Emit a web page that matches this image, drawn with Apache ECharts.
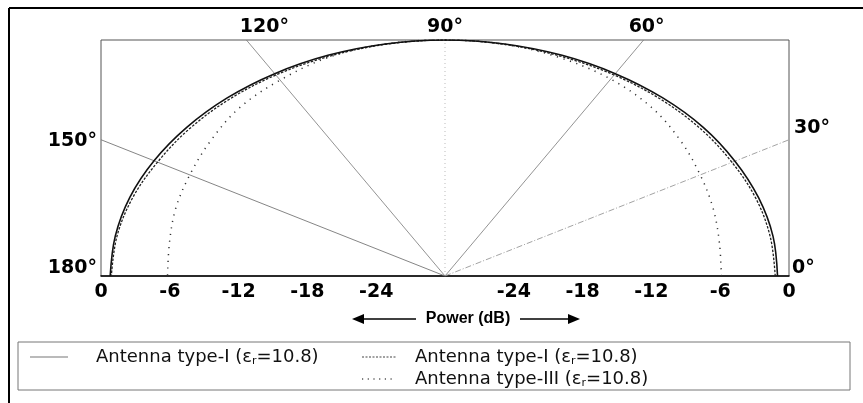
<!DOCTYPE html>
<html><head><meta charset="utf-8">
<script src="https://cdn.jsdelivr.net/npm/echarts@6/dist/echarts.min.js"></script>
<style>html,body{margin:0;padding:0;background:#fff}#c{width:863px;height:403px}</style>
</head><body><div id="c"></div>
<script>
// Angle (deg) samples of the radiation patterns
const angles = [0,10,20,30,40,50,60,70,80,90,100,110,120,130,140,150,160,170,180];
// Normalised power (dB)
const typeI_solid  = [-1.0,-0.95,-0.9,-0.8,-0.6,-0.45,-0.3,-0.15,-0.05,0,-0.05,-0.15,-0.3,-0.45,-0.6,-0.7,-0.75,-0.8,-0.8];
const typeI_dashed = [-1.2,-1.2,-1.15,-1.1,-0.9,-0.7,-0.5,-0.3,-0.1,0,-0.1,-0.3,-0.5,-0.7,-0.9,-1.05,-1.0,-0.95,-0.9];
const typeIII_dot  = [-5.9,-5.7,-5.1,-4.3,-3.2,-2.0,-1.1,-0.5,-0.1,0,-0.05,-0.4,-1.25,-2.1,-3.3,-4.3,-5.0,-5.6,-5.8];
// radial guide lines and angle labels
const radialAngles = [30,60,90,120,150];
const angleLabelValues = [0,30,60,90,120,150,180];
const angleLabelTexts = ['0°','30°','60°','90°','120°','150°','180°'];
// radial range
const dbMin = -30, dbMax = 0;
const legendNames = ['Antenna type-I (ε{s|r}=10.8)','Antenna type-I (ε{s|r}=10.8)','Antenna type-III (ε{s|r}=10.8)'];

const R = dbMax - dbMin;
const rad = a => a*Math.PI/180;
function toXY(a, db){ const r = db - dbMin; return [r*Math.cos(rad(a)), r*Math.sin(rad(a))]; }
function curve(vals){ return angles.map((a,i)=>toXY(a, vals[i])); }
function edge(a){ const c=Math.cos(rad(a)), s=Math.sin(rad(a)); const t = R/Math.max(Math.abs(c), Math.abs(s)); return [t*c, t*s]; }

const radialStyles = {
  30:{color:'#999',width:0.9,type:[6,2,1,2]},
  60:{color:'#777',width:0.8,type:'solid'},
  90:{color:'#aaa',width:0.8,type:[1,3]},
  120:{color:'#777',width:0.8,type:'solid'},
  150:{color:'#777',width:0.9,type:'solid'}
};
const series = [];
radialAngles.forEach(a=>{
  series.push({type:'line',data:[[0,0],edge(a)],symbol:'none',silent:true,lineStyle:radialStyles[a],z:1});
});
series.push({type:'line',name:'s1',data:curve(typeI_solid),smooth:0.35,symbol:'none',lineStyle:{color:'#111',width:1.6},z:5});
series.push({type:'line',name:'s2',data:curve(typeI_dashed),smooth:0.35,symbol:'none',lineStyle:{color:'#222',width:1.3,type:[2.5,1.5]},z:4});
series.push({type:'line',name:'s3',data:curve(typeIII_dot),smooth:0.35,symbol:'none',lineStyle:{color:'#333',width:1.5,type:[1.2,5.5]},z:3});

const lblPos = {0:['right',[0,-8]],30:['right',[2,-12]],60:['top',[3,0]],90:['top',[0,0]],120:['top',[18,0]],150:['left',[-1,1]],180:['left',[-1,-8]]};
series.push({type:'scatter',symbolSize:0,silent:true,z:6,itemStyle:{opacity:1},
  data:angleLabelValues.map((a,i)=>({value:edge(a),label:{show:true,formatter:angleLabelTexts[i],position:lblPos[a][0],offset:lblPos[a][1],distance:3}})),
  label:{fontFamily:'DejaVu Sans',fontWeight:'bold',fontSize:19,color:'#000',opacity:1}
});

const lt = {fontFamily:'DejaVu Sans',fontSize:18,fill:'#111'};
const rich = {s:{fontFamily:'DejaVu Sans',fontSize:11,verticalAlign:'bottom',padding:[8,0,0,0]}};
const option = {
  animation:false,
  grid:{left:101,right:74,top:40,bottom:127,show:true,borderColor:'#555',borderWidth:1},
  xAxis:{type:'value',min:-30,max:30,interval:6,
    axisLine:{show:true,lineStyle:{color:'#000',width:1.5}},axisTick:{show:false},splitLine:{show:false},
    axisLabel:{margin:7,color:'#000',fontFamily:'DejaVu Sans',fontWeight:'bold',fontSize:19,
      formatter:v=> v===0?'':String(Math.abs(v)-30)}},
  yAxis:{type:'value',min:0,max:30,show:false,splitLine:{show:false}},
  series:series,
  graphic:[
    {type:'line',shape:{x1:9,y1:8,x2:863,y2:8},style:{stroke:'#000',lineWidth:2}},
    {type:'line',shape:{x1:9,y1:8,x2:9,y2:403},style:{stroke:'#000',lineWidth:2}},
    // Power (dB) with arrows
    {type:'text',x:468,y:319,style:{text:'Power (dB)',fontFamily:'Liberation Sans',fontWeight:'bold',fontSize:16,fill:'#000',align:'center',verticalAlign:'middle'}},
    {type:'line',shape:{x1:360,y1:319,x2:416,y2:319},style:{stroke:'#000',lineWidth:1.5}},
    {type:'polygon',shape:{points:[[352,319],[364,314],[364,324]]},style:{fill:'#000'}},
    {type:'line',shape:{x1:520,y1:319,x2:570,y2:319},style:{stroke:'#000',lineWidth:1.5}},
    {type:'polygon',shape:{points:[[580,319],[568,314],[568,324]]},style:{fill:'#000'}},
    // legend box
    {type:'rect',shape:{x:18,y:342,width:832,height:48},style:{fill:'none',stroke:'#777',lineWidth:1}},
    {type:'line',shape:{x1:30,y1:357,x2:68,y2:357},style:{stroke:'#777',lineWidth:1.2}},
    {type:'text',x:96,y:357,style:{text:legendNames[0],rich:rich,...lt,verticalAlign:'middle'}},
    {type:'line',shape:{x1:362,y1:357,x2:396,y2:357},style:{stroke:'#444',lineWidth:1.2,lineDash:[2,1.5]}},
    {type:'text',x:415,y:357,style:{text:legendNames[1],rich:rich,...lt,verticalAlign:'middle'}},
    {type:'line',shape:{x1:362,y1:379,x2:396,y2:379},style:{stroke:'#555',lineWidth:1.3,lineDash:[1.2,4.5]}},
    {type:'text',x:415,y:379,style:{text:legendNames[2],rich:rich,...lt,verticalAlign:'middle'}}
  ]
};
echarts.init(document.getElementById('c')).setOption(option);
</script></body></html>
